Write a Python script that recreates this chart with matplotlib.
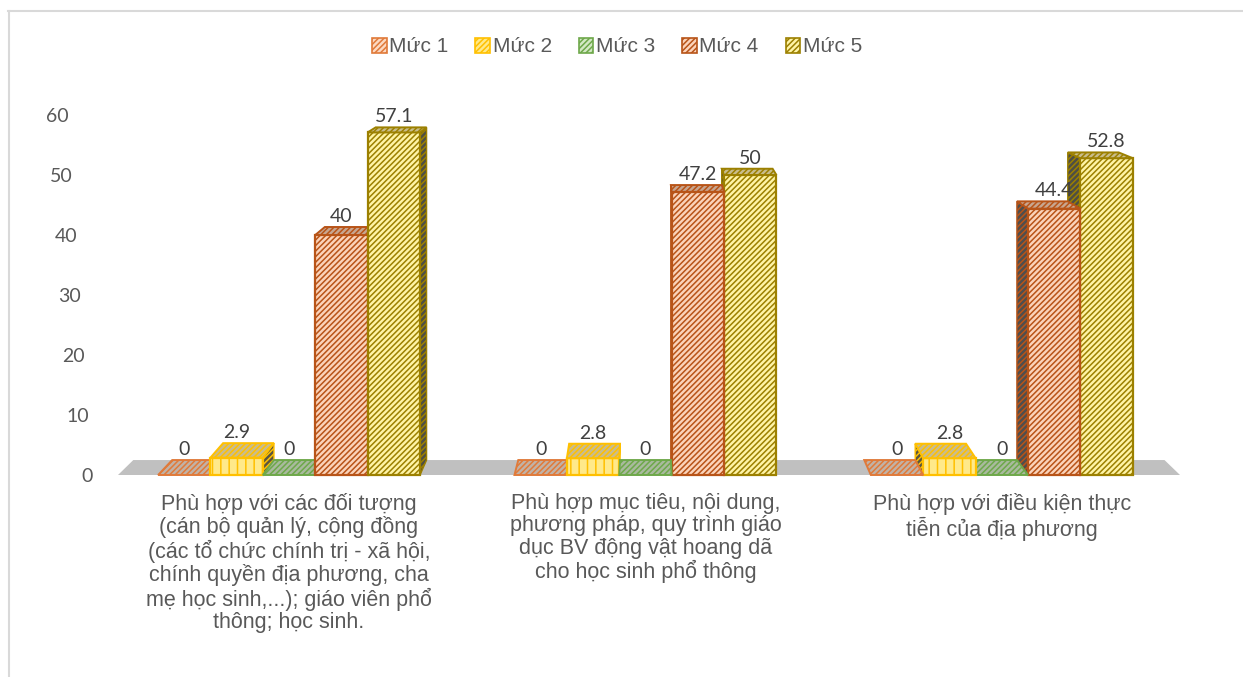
import matplotlib
matplotlib.use("Agg")
import matplotlib.pyplot as plt
from matplotlib.patches import Polygon, Patch
from matplotlib.lines import Line2D
from matplotlib.transforms import ScaledTranslation

plt.rcParams['font.family'] = ['Liberation Sans', 'DejaVu Sans']
plt.rcParams['hatch.linewidth'] = 1.1

# --- data -------------------------------------------------------------
categories = [
    "Phù hợp với các đối tượng\n(cán bộ quản lý, cộng đồng\n(các tổ chức chính trị - xã hội,\n"
    "chính quyền địa phương, cha\nmẹ học sinh,...); giáo viên phổ\nthông; học sinh.",
    "Phù hợp mục tiêu, nội dung,\nphương pháp, quy trình giáo\ndục BV động vật hoang dã\n"
    "cho học sinh phổ thông",
    "Phù hợp với điều kiện thực\ntiễn của địa phương",
]
series_names = ["Mức 1", "Mức 2", "Mức 3", "Mức 4", "Mức 5"]
muc1 = [0, 0, 0]
muc2 = [2.9, 2.8, 2.8]
muc3 = [0, 0, 0]
muc4 = [40, 47.2, 44.4]
muc5 = [57.1, 50, 52.8]
values = [muc1, muc2, muc3, muc4, muc5]
yticks = [0, 10, 20, 30, 40, 50, 60]

# --- styles (edge/hatch, front fill, top fill, side fill) --------------
styles = [
    dict(edge="#E07A3A", front="#FCD9C2", top="#C2B2A6", side="#5A5048", hatch="//////"),
    dict(edge="#FFC000", front="#FFE98A", top="#C9BC8E", side="#5A5540", hatch="||"),
    dict(edge="#6EA84A", front="#D3E8C5", top="#A9BA9E", side="#4A5544", hatch="//////"),
    dict(edge="#B85418", front="#FBD3BA", top="#C8A690", side="#4E4E4E", hatch="//////"),
    dict(edge="#9C8000", front="#FFF4A6", top="#C9BD8C", side="#4E4E44", hatch="//////"),
]

# perspective: receding edges converge toward a vanishing point
VP_X, VP_Y, T = 1.0, 86.0, 0.029
BAR_W = 0.147


def back(x, y):
    return x + T * (VP_X - x), y + T * (VP_Y - y)


def face(ax, pts, fill, hatch_col, hatch, z, lw=1.2):
    ax.add_patch(Polygon(pts, closed=True, facecolor=fill, edgecolor=hatch_col,
                         hatch=hatch, linewidth=0, zorder=z, clip_on=False))
    ax.add_patch(Polygon(pts, closed=True, facecolor="none", edgecolor=hatch_col,
                         linewidth=lw, zorder=z + 0.01, clip_on=False))


fig = plt.figure(figsize=(12.43, 6.77), dpi=100)
fig.patch.set_facecolor("white")
ax = fig.add_axes([118 / 1243, 202 / 677, 1062 / 1243, 360 / 677])
ax.set_xlim(-0.48, 2.50)
ax.set_ylim(0, 60)
for s in ax.spines.values():
    s.set_visible(False)

# floor band
x0, x1 = ax.get_xlim()
bl, br = back(x0, 0), back(x1, 0)
ax.add_patch(Polygon([(x0, 0), (x1, 0), br, bl], closed=True, facecolor="#C0C0C0",
                     edgecolor="none", zorder=1, clip_on=False))

for i, (vals, st) in enumerate(zip(values, styles)):
    for g, v in enumerate(vals):
        xc = g + (i - 2) * BAR_W
        xa, xb = xc - BAR_W / 2, xc + BAR_W / 2
        z = 10 - abs(xc - VP_X) * 3
        # visible side face
        if VP_X > xb:
            sx = xb
        elif VP_X < xa:
            sx = xa
        else:
            sx = None
        if sx is not None and v > 0:
            pts = [(sx, 0), (sx, v), back(sx, v), back(sx, 0)]
            face(ax, pts, st["side"], st["edge"], "//////", z, lw=1.0)
        # front face
        if v > 0:
            face(ax, [(xa, 0), (xb, 0), (xb, v), (xa, v)], st["front"], st["edge"],
                 st["hatch"], z + 0.02, lw=1.6)
        # top face
        pts = [(xa, v), (xb, v), back(xb, v), back(xa, v)]
        face(ax, pts, st["top"], st["edge"], "//////", z + 0.03, lw=1.4)
        # value label above the top face
        ty = back(xc, v)[1]
        ax.annotate(f"{v:g}", (xc, ty), xytext=(0, 1.5), textcoords="offset points",
                    ha="center", va="bottom", fontsize=14, color="#404040",
                    family=["Lato", "DejaVu Sans"], zorder=20, annotation_clip=False)

# y axis labels, slanted with the perspective
ax.set_yticks(yticks)
ax.set_yticklabels([str(t) for t in yticks], family=["Lato", "DejaVu Sans"],
                   fontsize=14, color="#595959")
ax.tick_params(axis="y", length=0, pad=18)
for t, lab in zip(yticks, ax.get_yticklabels()):
    lab.set_transform(lab.get_transform() +
                      ScaledTranslation(-(t / 60) * 0.24, 0, fig.dpi_scale_trans))

# category labels
ax.set_xticks([0, 1, 2])
ax.set_xticklabels(categories, fontsize=15.5, color="#595959", linespacing=1.08)
ax.tick_params(axis="x", length=0, pad=13)

# legend
handles = [Patch(facecolor=st["front"], edgecolor=st["edge"], hatch="//////", linewidth=1.2)
           for st in styles]
fig.legend(handles, series_names, loc="center", bbox_to_anchor=(617 / 1243, 1 - 47 / 677),
           ncol=5, frameon=False, fontsize=15, labelcolor="#595959", handlelength=0.7,
           handleheight=0.7, handletextpad=0.12, columnspacing=1.3)

# chart area border (top and left edges)
fig.add_artist(Line2D([8 / 1243, 1], [1 - 11 / 677] * 2, color="#D9D9D9", lw=1.5))
fig.add_artist(Line2D([9 / 1243] * 2, [0, 1 - 11 / 677], color="#D9D9D9", lw=1.5))

fig.savefig("out.png", dpi=100, facecolor="white")
